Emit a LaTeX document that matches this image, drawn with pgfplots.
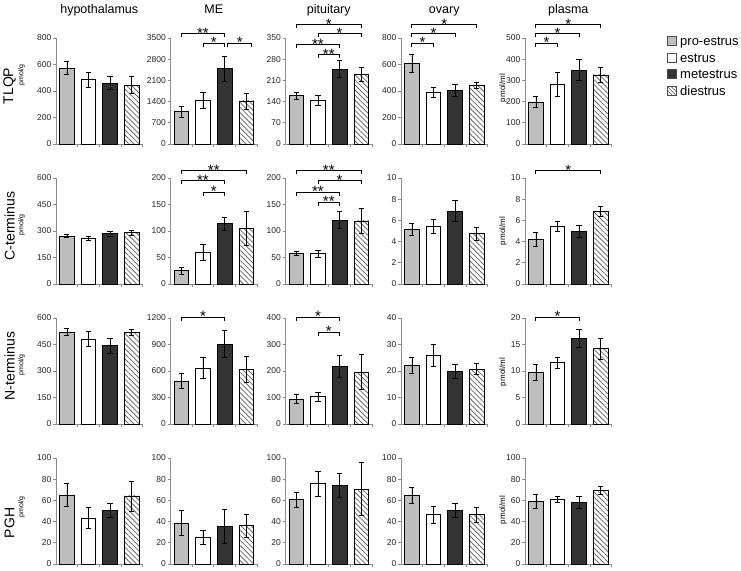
\documentclass[border=0pt]{standalone}
\usepackage{fontspec}
\setmainfont{Liberation Sans}
\usepackage{pgfplots}
\pgfplotsset{compat=1.18}
\usetikzlibrary{patterns.meta}
\definecolor{axgray}{HTML}{8C8C8C}
\definecolor{progray}{HTML}{BEBEBE}
\definecolor{metdark}{HTML}{333333}
\definecolor{hatchc}{HTML}{6A6A6A}
\newcommand{\fs}[1]{\fontsize{#1}{#1}\selectfont}
\pgfplotsset{
  panel/.style={
    scale only axis, width=86.5pt, height=106pt, anchor=south west,
    xmin=-0.5, xmax=3.5, ymin=0,
    axis x line=bottom, axis y line=left,
    axis line style={-, draw=axgray, line width=0.7pt},
    xtick={0.5,1.5,2.5,3.5}, xticklabels={},
    tick align=outside, major tick length=3pt,
    tick style={draw=axgray, line width=0.7pt},
    ybar, bar width=0.68, bar shift=0pt,
    clip=false,
    yticklabel style={font=\fs{8.5}, text=black!85, inner sep=1.5pt},
    /pgf/number format/assume math mode=true,
    /pgf/number format/1000 sep={},
    scaled y ticks=false,
  },
  eb/.style={error bars/.cd, y dir=both, y explicit,
     error bar style={black, line width=0.6pt},
     error mark options={rotate=90, mark size=2.6pt, black, line width=0.6pt}},
  b1/.style={fill=progray, draw=black, line width=0.6pt, bar shift=0pt, eb},
  b2/.style={fill=white, draw=black, line width=0.6pt, bar shift=0pt, eb},
  b3/.style={fill=metdark, draw=black, line width=0.6pt, bar shift=0pt, eb},
  b4/.style={pattern={Lines[angle=-45, distance=3.6pt, line width=0.8pt]}, pattern color=hatchc, draw=black, line width=0.6pt, bar shift=0pt, eb},
}
\newcommand{\bars}[8]{%
  \addplot[b1] coordinates {(0,#1) +- (0,#2)};
  \addplot[b2] coordinates {(1,#3) +- (0,#4)};
  \addplot[b3] coordinates {(2,#5) +- (0,#6)};
  \addplot[b4] coordinates {(3,#7) +- (0,#8)};
}
\newcommand{\sig}[4]{%
  \draw[black, line width=0.8pt] ({axis cs:#1,0}|-{rel axis cs:0,#3}) ++(0pt,-4pt) -- ++(0pt,4pt)
     -- node[anchor=base, yshift=-5pt, font=\fs{15}, inner sep=0pt]{#4} ({axis cs:#2,0}|-{rel axis cs:0,#3}) -- ++(0pt,-4pt);}
\begin{document}
\begin{tikzpicture}
% ---------------- titles
\node[anchor=base, font=\fs{12.5}] at (99.25pt,-13pt) {hypothalamus};
\node[anchor=base, font=\fs{12.5}] at (213.75pt,-13pt) {ME};
\node[anchor=base, font=\fs{12.5}] at (328.75pt,-13pt) {pituitary};
\node[anchor=base, font=\fs{12.5}] at (444.25pt,-13pt) {ovary};
\node[anchor=base, font=\fs{12.5}] at (568.25pt,-13pt) {plasma};
% ---------------- row labels
\node[rotate=90, font=\fs{14}] at (9.5pt,-86pt) {TLQP};
\node[rotate=90, font=\fs{7}] at (21.5pt,-75pt) {pmol/g};
\node[rotate=90, font=\fs{14}] at (9.5pt,-226pt) {C-terminus};
\node[rotate=90, font=\fs{7}] at (21.5pt,-225pt) {pmol/g};
\node[rotate=90, font=\fs{14}] at (9.5pt,-366pt) {N-terminus};
\node[rotate=90, font=\fs{7}] at (21.5pt,-365pt) {pmol/g};
\node[rotate=90, font=\fs{14}] at (9.5pt,-523pt) {PGH};
\node[rotate=90, font=\fs{7}] at (21.5pt,-507pt) {pmol/g};
\node[rotate=90, font=\fs{8}] at (503pt,-88pt) {pmol/ml};
\node[rotate=90, font=\fs{8}] at (503pt,-231pt) {pmol/ml};
\node[rotate=90, font=\fs{8}] at (503pt,-372pt) {pmol/ml};
\node[rotate=90, font=\fs{8}] at (503pt,-510pt) {pmol/ml};
% ================= ROW 1 : TLQP
\begin{axis}[panel, at={(56pt,-144pt)}, ymax=800, ytick={0,200,...,800}]
\bars{575}{50}{487}{57}{460}{50}{445}{65}
\end{axis}
\begin{axis}[panel, at={(170.5pt,-144pt)}, ymax=3500, ytick={0,700,...,3500}]
\bars{1070}{190}{1445}{250}{2485}{415}{1425}{265}
\sig{0}{2}{1.047}{**}
\sig{1}{2}{0.953}{*}
\sig{2.15}{3.25}{0.953}{*}
\end{axis}
\begin{axis}[panel, at={(285.5pt,-144pt)}, ymax=350, ytick={0,70,...,350}]
\bars{160}{11}{145}{16}{248}{28}{230}{24}
\sig{0}{3}{1.132}{*}
\sig{1}{3}{1.047}{*}
\sig{0}{2}{0.943}{**}
\sig{1}{2}{0.849}{**}
\end{axis}
\begin{axis}[panel, at={(401pt,-144pt)}, ymax=800, ytick={0,200,...,800}]
\bars{610}{70}{390}{40}{405}{48}{442}{23}
\sig{0}{3}{1.132}{*}
\sig{0}{2}{1.047}{*}
\sig{0}{1}{0.953}{*}
\end{axis}
\begin{axis}[panel, at={(525pt,-144pt)}, ymax=500, ytick={0,100,...,500}]
\bars{198}{27}{282}{58}{350}{48}{326}{36}
\sig{0}{3}{1.132}{*}
\sig{0}{2}{1.047}{*}
\sig{0}{1}{0.953}{*}
\end{axis}
% ================= ROW 2 : C-terminus
\begin{axis}[panel, at={(56pt,-284pt)}, ymax=600, ytick={0,150,...,600}]
\bars{272}{10}{259}{12}{286}{14}{291}{15}
\end{axis}
\begin{axis}[panel, at={(170.5pt,-284pt)}, ymax=200, ytick={0,50,...,200}]
\bars{25}{6}{59}{15}{114}{12.5}{105}{32}
\sig{0}{3}{1.075}{**}
\sig{0}{2}{0.981}{**}
\sig{1}{2}{0.868}{*}
\end{axis}
\begin{axis}[panel, at={(285.5pt,-284pt)}, ymax=200, ytick={0,50,...,200}]
\bars{58}{4.5}{57}{7}{121}{16}{119}{23}
\sig{0}{3}{1.075}{**}
\sig{1}{3}{0.981}{*}
\sig{0}{2}{0.868}{**}
\sig{1}{2}{0.774}{**}
\end{axis}
\begin{axis}[panel, at={(401pt,-284pt)}, ymax=10, ytick={0,2,...,10}]
\bars{5.15}{0.53}{5.41}{0.66}{6.9}{1.02}{4.75}{0.6}
\end{axis}
\begin{axis}[panel, at={(525pt,-284pt)}, ymax=10, ytick={0,2,...,10}]
\bars{4.2}{0.68}{5.4}{0.47}{4.95}{0.57}{6.82}{0.48}
\sig{0}{3}{1.075}{*}
\end{axis}
% ================= ROW 3 : N-terminus
\begin{axis}[panel, at={(56pt,-424pt)}, ymax=600, ytick={0,150,...,600}]
\bars{520}{19}{482}{41}{443}{42}{520}{18}
\end{axis}
\begin{axis}[panel, at={(170.5pt,-424pt)}, ymax=1200, ytick={0,300,...,1200}]
\bars{488}{85}{632}{118}{906}{150}{615}{148}
\sig{0}{2}{1.01}{*}
\end{axis}
\begin{axis}[panel, at={(285.5pt,-424pt)}, ymax=400, ytick={0,100,...,400}]
\bars{95}{16}{103}{16}{219}{41}{196}{66}
\sig{0}{2}{1.01}{*}
\sig{1}{2}{0.868}{*}
\end{axis}
\begin{axis}[panel, at={(401pt,-424pt)}, ymax=40, ytick={0,10,...,40}]
\bars{22.2}{3}{25.8}{4.2}{19.9}{2.8}{20.7}{2.1}
\end{axis}
\begin{axis}[panel, at={(525pt,-424pt)}, ymax=20, ytick={0,5,...,20}]
\bars{9.8}{1.55}{11.6}{1}{16.1}{1.7}{14.2}{1.9}
\sig{0}{2}{1.01}{*}
\end{axis}
% ================= ROW 4 : PGH
\begin{axis}[panel, at={(56pt,-564pt)}, ymax=100, ytick={0,20,...,100}]
\bars{65}{11}{43.4}{10}{50.9}{6.8}{64.2}{14.2}
\end{axis}
\begin{axis}[panel, at={(170.5pt,-564pt)}, ymax=100, ytick={0,20,...,100}]
\bars{38.7}{12}{25.2}{6.5}{35.5}{16}{36.2}{11}
\end{axis}
\begin{axis}[panel, at={(285.5pt,-564pt)}, ymax=100, ytick={0,20,...,100}]
\bars{60.7}{6.8}{75.8}{12}{74.2}{11}{70.7}{25}
\end{axis}
\begin{axis}[panel, at={(401pt,-564pt)}, ymax=100, ytick={0,20,...,100}]
\bars{65.1}{7.4}{46.5}{8}{50.9}{6.5}{46.5}{7}
\end{axis}
\begin{axis}[panel, at={(525pt,-564pt)}, ymax=100, ytick={0,20,...,100}]
\bars{58.8}{6.5}{61}{3.2}{58.2}{5.3}{69.2}{3.8}
\end{axis}
% ================= legend
\draw[fill=progray, draw=black!70, line width=0.6pt] (667pt,-36.5pt) rectangle (676pt,-45.5pt);
\node[anchor=base west, font=\fs{13}, inner sep=0pt] at (680pt,-45.5pt) {pro-estrus};
\draw[fill=white, draw=black!70, line width=0.6pt] (667pt,-53pt) rectangle (676pt,-62pt);
\node[anchor=base west, font=\fs{13}, inner sep=0pt] at (680pt,-62pt) {estrus};
\draw[fill=metdark, draw=black!70, line width=0.6pt] (667pt,-69.5pt) rectangle (676pt,-78.5pt);
\node[anchor=base west, font=\fs{13}, inner sep=0pt] at (680pt,-78.5pt) {metestrus};
\draw[pattern={Lines[angle=-45, distance=2.6pt, line width=0.7pt]}, pattern color=hatchc, draw=black!70, line width=0.6pt] (667pt,-86pt) rectangle (676pt,-95pt);
\node[anchor=base west, font=\fs{13}, inner sep=0pt] at (680pt,-95pt) {diestrus};
\pgfresetboundingbox
\useasboundingbox (0pt,0pt) rectangle (741pt,-570pt);
\end{tikzpicture}
\end{document}
